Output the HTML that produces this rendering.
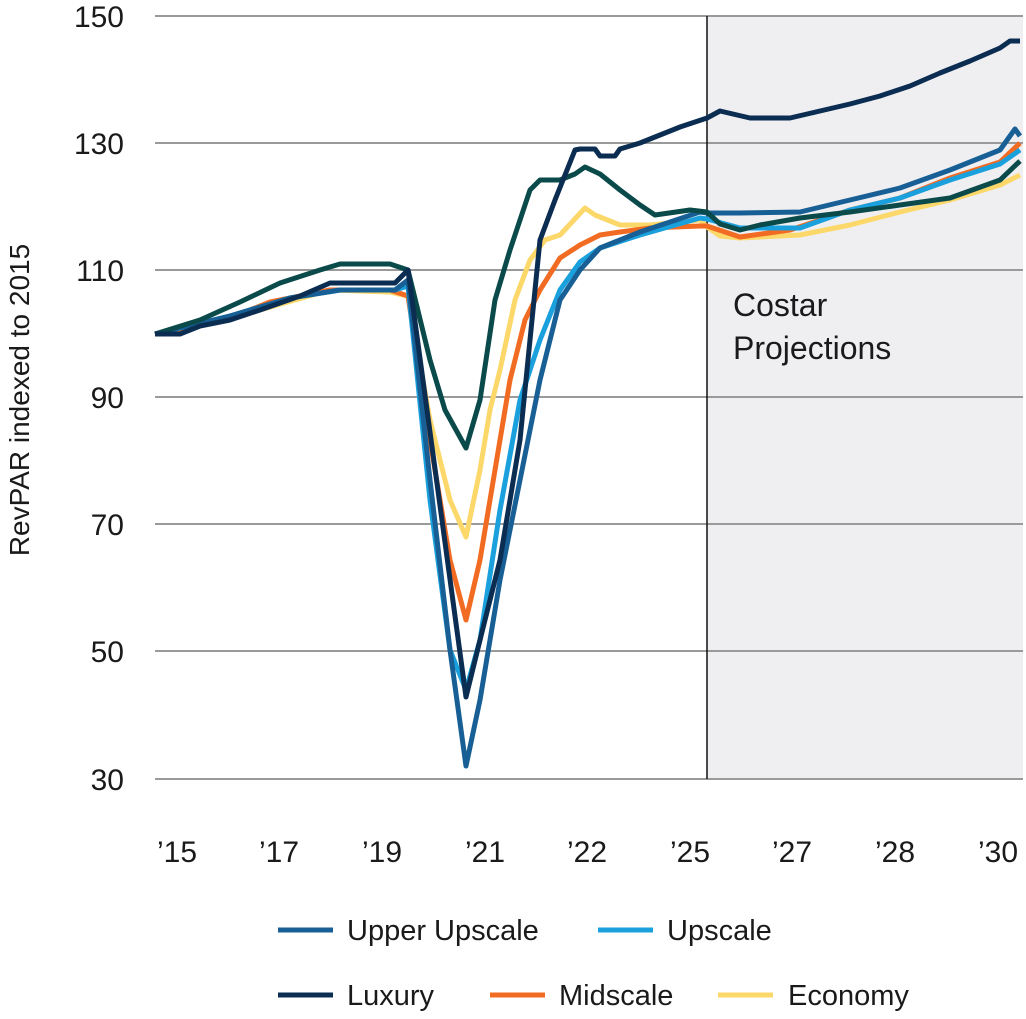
<!DOCTYPE html>
<html><head><meta charset="utf-8"><style>
body{margin:0;background:#fff;}
svg text{font-family:"Liberation Sans",sans-serif;fill:#1a1a1a;}
</style></head><body>
<svg width="1026" height="1014" viewBox="0 0 1026 1014" xmlns="http://www.w3.org/2000/svg">
<rect x="707" y="16" width="316" height="763" fill="#efeff2"/>
<g stroke="#9a9a9a" stroke-width="2">
<line x1="155" y1="16" x2="1023" y2="16"/>
<line x1="155" y1="143" x2="1023" y2="143"/>
<line x1="155" y1="270" x2="1023" y2="270"/>
<line x1="155" y1="397" x2="1023" y2="397"/>
<line x1="155" y1="524" x2="1023" y2="524"/>
<line x1="155" y1="651" x2="1023" y2="651"/>
<line x1="155" y1="779" x2="1023" y2="779"/>
</g>
<line x1="707" y1="16" x2="707" y2="779" stroke="#111" stroke-width="1.5"/>
<g font-size="30" text-anchor="end">
<text x="124" y="27">150</text><text x="124" y="154">130</text><text x="124" y="281">110</text>
<text x="124" y="408">90</text><text x="124" y="535">70</text><text x="124" y="662">50</text><text x="124" y="790">30</text>
</g>
<g font-size="30" text-anchor="middle">
<text x="177" y="862">’15</text><text x="279" y="862">’17</text><text x="382" y="862">’19</text>
<text x="485" y="862">’21</text><text x="587" y="862">’22</text><text x="690" y="862">’25</text>
<text x="792" y="862">’27</text><text x="895" y="862">’28</text><text x="998" y="862">’30</text>
</g>
<text transform="translate(29,400) rotate(-90)" font-size="28" text-anchor="middle">RevPAR indexed to 2015</text>
<text x="733" y="316" font-size="32">Costar</text>
<text x="733" y="359" font-size="32">Projections</text>
<g fill="none" stroke-width="5" stroke-linejoin="round">
<polyline stroke="#fcd86a" points="155,334 200,324 260,310 330,290 390,292 408,296 430,420 450,500 466,537 480,470 490,410 500,370 515,300 530,260 545,240 560,235 585,208 595,215 620,225 650,225 700,220 707,227 720,236 740,238 800,235 850,225 900,212 950,200 1000,185 1020,175"/>
<polyline stroke="#f26b22" points="155,334 230,318 270,302 330,290 390,290 408,296 430,440 450,560 466,620 480,560 495,470 510,380 525,320 540,290 560,258 580,245 600,235 620,232 650,228 700,226 707,226 740,237 790,230 850,210 900,198 950,178 1000,162 1020,143"/>
<polyline stroke="#1aa0dc" points="155,334 230,316 290,298 340,290 395,290 408,286 430,500 450,650 466,690 480,640 500,510 520,400 540,340 560,290 580,262 600,248 640,235 700,218 707,219 740,228 800,228 850,210 900,198 950,180 1000,164 1020,150"/>
<polyline stroke="#175f95" points="155,334 230,316 290,298 340,290 395,290 408,280 430,480 450,650 466,766 480,700 500,580 520,480 540,380 560,300 580,270 600,248 640,232 700,212 707,213 740,213 800,212 850,200 900,188 950,170 1000,150 1015,129 1020,136"/>
<polyline stroke="#0b4a4a" points="155,334 200,320 240,302 280,283 320,270 340,264 390,264 408,270 430,360 445,410 466,448 480,400 495,300 510,250 530,190 540,180 560,180 575,174 585,167 600,174 620,190 640,205 655,215 690,210 707,212 720,224 740,230 760,225 800,218 850,212 900,205 950,198 1000,180 1020,161"/>
<polyline stroke="#0b2d52" points="155,334 180,334 200,326 230,320 260,310 300,296 330,283 395,283 408,270 466,697 480,640 500,560 520,440 540,240 555,200 575,150 580,149 595,149 600,156 615,156 620,149 640,143 660,135 680,127 707,118 720,111 750,118 790,118 820,111 850,104 880,96 910,86 940,73 970,61 1000,48 1010,41 1020,41"/>
</g>
<g stroke-width="5">
<line x1="278" y1="930" x2="333" y2="930" stroke="#175f95"/>
<line x1="598" y1="930" x2="653" y2="930" stroke="#1aa0dc"/>
<line x1="278" y1="995" x2="333" y2="995" stroke="#0b2d52"/>
<line x1="490" y1="995" x2="545" y2="995" stroke="#f26b22"/>
<line x1="718" y1="995" x2="773" y2="995" stroke="#fcd86a"/>
</g>
<g font-size="29">
<text x="347" y="940">Upper Upscale</text>
<text x="667" y="940">Upscale</text>
<text x="347" y="1005">Luxury</text>
<text x="559" y="1005">Midscale</text>
<text x="788" y="1005">Economy</text>
</g>
</svg>
</body></html>
